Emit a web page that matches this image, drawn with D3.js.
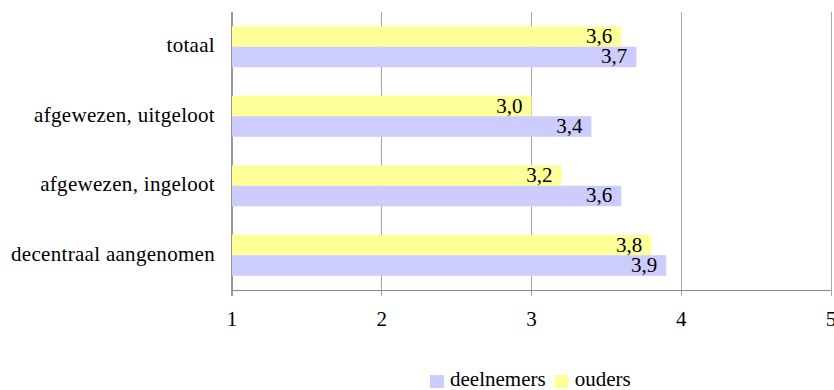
<!DOCTYPE html>
<html>
<head>
<meta charset="utf-8">
<script src="https://cdn.jsdelivr.net/npm/d3@7"></script>
<style>
  html, body { margin: 0; padding: 0; background: #fff; }
  svg { display: block; }
  svg text { font-family: "Liberation Serif", "Times New Roman", Times, "DejaVu Serif", serif; }
</style>
</head>
<body>
<svg id="chart" width="834" height="390"></svg>
<script>
// Categories, top to bottom
const categories = ["totaal", "afgewezen, uitgeloot", "afgewezen, ingeloot", "decentraal aangenomen"];
// Series values (score on a 1–5 scale)
const ouders = [3.6, 3.0, 3.2, 3.8];
const deelnemers = [3.7, 3.4, 3.6, 3.9];
// Axis ticks
const xTicks = [1, 2, 3, 4, 5];

const seriesNames = ["ouders", "deelnemers"];
const seriesValues = { ouders, deelnemers };
const colors = { ouders: "#FFFF99", deelnemers: "#CCCCFF" };
const legendOrder = ["deelnemers", "ouders"];

const svg = d3.select("#chart");
const plotLeft = 232, plotRight = 831, plotTop = 12, plotBottom = 290;
const fontSize = 21;
const serif = "'Liberation Serif', 'Times New Roman', Times, 'DejaVu Serif', serif";

const x = d3.scaleLinear().domain([1, 5]).range([plotLeft, plotRight]);
const y = d3.scaleBand().domain(categories).range([plotTop, plotBottom])
  .paddingInner(0.41).paddingOuter(0.205);
const ySub = d3.scaleBand().domain(seriesNames).range([0, y.bandwidth()]);

const fmt = v => d3.format(".1f")(v).replace(".", ",");

// vertical gridlines, extending below the axis as tick marks
svg.append("g").selectAll("line").data(xTicks).join("line")
  .attr("x1", d => x(d)).attr("x2", d => x(d))
  .attr("y1", plotTop).attr("y2", plotBottom + 6)
  .attr("stroke", d => d === 1 ? "#999" : "#a6a6a6")
  .attr("stroke-width", d => d === 1 ? 1.5 : 1)
  .attr("shape-rendering", "crispEdges");

// bars
const rows = categories.map((c, i) => ({ c, i }));
const groups = svg.append("g").selectAll("g").data(rows).join("g")
  .attr("transform", d => `translate(0,${y(d.c)})`);

groups.selectAll("rect").data(d => seriesNames.map(s => ({ s, v: seriesValues[s][d.i] })))
  .join("rect")
  .attr("x", x(1))
  .attr("y", d => ySub(d.s))
  .attr("width", d => x(d.v) - x(1))
  .attr("height", ySub.bandwidth())
  .attr("fill", d => colors[d.s]);

groups.selectAll("text").data(d => seriesNames.map(s => ({ s, v: seriesValues[s][d.i] })))
  .join("text")
  .attr("x", d => x(d.v) - 9)
  .attr("y", d => ySub(d.s) + ySub.bandwidth() / 2 + 6.5)
  .attr("text-anchor", "end")
  .attr("font-family", serif)
  .attr("font-size", fontSize)
  .attr("fill", "#000")
  .text(d => fmt(d.v));

// x axis line
svg.append("line")
  .attr("x1", plotLeft).attr("x2", plotRight)
  .attr("y1", plotBottom).attr("y2", plotBottom)
  .attr("stroke", "#888").attr("shape-rendering", "crispEdges");

// x tick labels
svg.append("g").selectAll("text").data(xTicks).join("text")
  .attr("x", d => x(d))
  .attr("y", 326)
  .attr("text-anchor", "middle")
  .attr("font-family", serif)
  .attr("font-size", fontSize)
  .text(d => d);

// category labels
svg.append("g").selectAll("text").data(categories).join("text")
  .attr("x", 215)
  .attr("y", d => y(d) + y.bandwidth() / 2 + 5.5)
  .attr("text-anchor", "end")
  .attr("font-family", serif)
  .attr("font-size", fontSize)
  .attr("letter-spacing", 0.3)
  .text(d => d);

// legend
const legend = svg.append("g").attr("transform", "translate(430,375)");
let lx = 0;
legendOrder.forEach(s => {
  const g = legend.append("g").attr("transform", `translate(${lx},0)`);
  g.append("rect").attr("width", 14).attr("height", 13).attr("fill", colors[s]);
  const t = g.append("text").attr("x", 20).attr("y", 11)
    .attr("font-family", serif).attr("font-size", fontSize).text(s);
  lx += 20 + t.node().getComputedTextLength() + 9;
});
</script>
</body>
</html>
